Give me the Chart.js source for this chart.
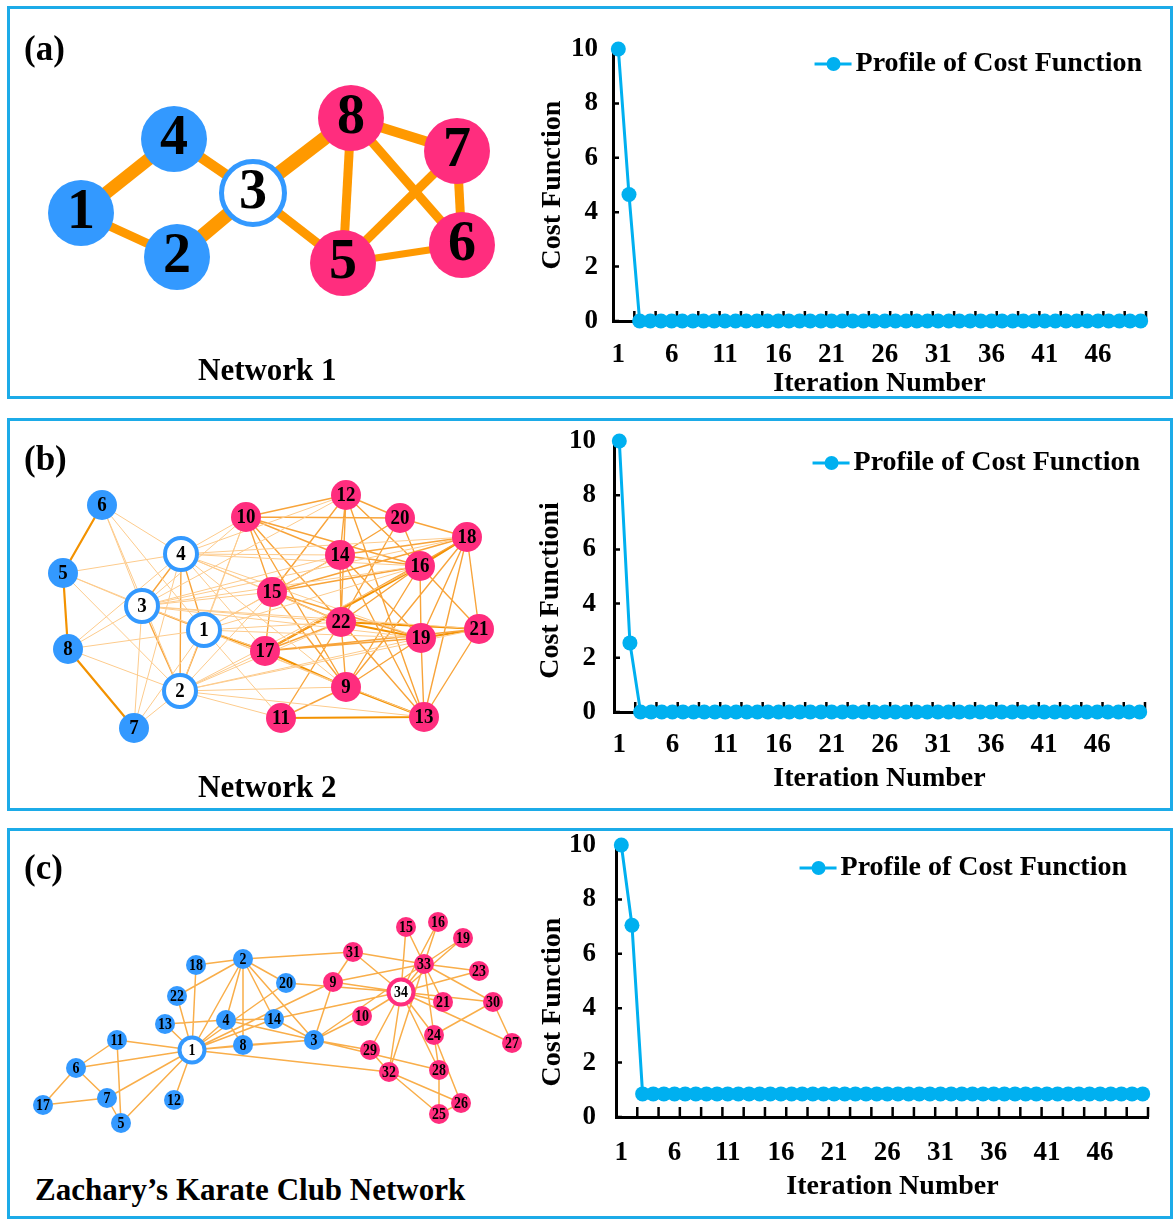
<!DOCTYPE html>
<html lang="en">
<head>
<meta charset="UTF-8">
<title>Cost Function Profiles</title>
<script src="https://cdn.jsdelivr.net/npm/chart.js"></script>
<style>
    body { margin: 0; background: #fff; }
    #page { position: relative; width: 1176px; height: 1220px; overflow: hidden;
            font-family: 'Liberation Serif', 'Times New Roman', serif; color: #000; }
    .panel { position: absolute; left: 7px; width: 1166px; border: 3px solid #1CABE8; box-sizing: border-box; }
    .tag { position: absolute; left: 24px; font-size: 35px; line-height: 35px; font-weight: bold; }
    .name { position: absolute; font-size: 31px; line-height: 31px; font-weight: bold; white-space: nowrap; }
    canvas { position: absolute; }
</style>
</head>
<body>
<div id="page">
    <div class="panel" style="top:6px;height:393px"></div>
    <div class="panel" style="top:418px;height:393px"></div>
    <div class="panel" style="top:828px;height:391px"></div>

    <canvas id="net1" width="510" height="345" style="left:11px;top:11px"></canvas>
    <canvas id="net2" width="510" height="360" style="left:11px;top:421px"></canvas>
    <canvas id="net3" width="530" height="330" style="left:11px;top:834px"></canvas>

    <canvas id="costA" width="630" height="391" style="left:530px;top:10px"></canvas>
    <canvas id="costB" width="630" height="378" style="left:530px;top:418px"></canvas>
    <canvas id="costC" width="630" height="372" style="left:530px;top:832px"></canvas>

    <div class="tag" style="top:31px">(a)</div>
    <div class="tag" style="top:441px">(b)</div>
    <div class="tag" style="top:850px">(c)</div>
    <div class="name" style="left:198px;top:354px">Network 1</div>
    <div class="name" style="left:198px;top:771px">Network 2</div>
    <div class="name" style="left:35px;top:1174px">Zachary’s Karate Club Network</div>
</div>

<script>
    const SERIF = "'Liberation Serif', 'Times New Roman', serif";
    const LINE = '#00B0F0';
    const BLUE = '#3399FF';
    const PINK = '#FF2D7E';

    // ---- cost function profiles ----
    const iterations = ['1','2','3','4','5','6','7','8','9','10','11','12','13','14','15','16','17','18','19','20',
        '21','22','23','24','25','26','27','28','29','30','31','32','33','34','35','36','37','38','39','40',
        '41','42','43','44','45','46','47','48','49','50'];
    const labelEvery = 5;
    const costNet1 = [10, 4.65, 0, 0, 0, 0, 0, 0, 0, 0, 0, 0, 0, 0, 0, 0, 0, 0, 0, 0, 0, 0, 0, 0, 0,
        0, 0, 0, 0, 0, 0, 0, 0, 0, 0, 0, 0, 0, 0, 0, 0, 0, 0, 0, 0, 0, 0, 0, 0, 0];
    const costNet2 = [10, 2.55, 0, 0, 0, 0, 0, 0, 0, 0, 0, 0, 0, 0, 0, 0, 0, 0, 0, 0, 0, 0, 0, 0, 0,
        0, 0, 0, 0, 0, 0, 0, 0, 0, 0, 0, 0, 0, 0, 0, 0, 0, 0, 0, 0, 0, 0, 0, 0, 0];
    const costKarate = [10, 7.05, 0.85, 0.85, 0.85, 0.85, 0.85, 0.85, 0.85, 0.85, 0.85, 0.85, 0.85, 0.85, 0.85,
        0.85, 0.85, 0.85, 0.85, 0.85, 0.85, 0.85, 0.85, 0.85, 0.85, 0.85, 0.85, 0.85, 0.85, 0.85, 0.85, 0.85,
        0.85, 0.85, 0.85, 0.85, 0.85, 0.85, 0.85, 0.85, 0.85, 0.85, 0.85, 0.85, 0.85, 0.85, 0.85, 0.85, 0.85, 0.85];

    // ---- network 1 ----
    const net1Labels = ['1','2','3','4','5','6','7','8'];
    const net1X = [81, 177, 253, 174, 343, 462, 457, 351];
    const net1Y = [213, 257, 193, 139, 263, 245, 151, 118];
    const net1Kind = ['b','b','rb','b','p','p','p','p'];
    const net1Edges = [[1,4],[1,2],[4,3],[2,3],[3,8],[3,5],[8,7],[8,5],[8,6],[7,5],[7,6],[5,6]];
    const net1Weights = [1.3, 0.9, 1.0, 1.4, 1.4, 0.9, 1.0, 0.9, 0.9, 0.9, 0.9, 0.7];

    // ---- network 2 ----
    const net2Labels = ['1','2','3','4','5','6','7','8','9','10','11','12','13','14','15','16','17','18','19','20','21','22'];
    const net2X = [204, 180, 142, 181, 63, 102, 134, 68, 346, 246, 281, 346, 424, 340, 272, 420, 265, 467, 421, 400, 479, 341];
    const net2Y = [630, 691, 606, 554, 573, 505, 728, 649, 687, 517, 718, 495, 717, 555, 592, 566, 651, 537, 638, 518, 629, 622];
    const net2Kind = ['rb','rb','rb','rb','b','b','b','b','p','p','p','p','p','p','p','p','p','p','p','p','p','p'];
    const net2Strong = [[6,5],[5,8],[8,7],[1,17],[17,9],[9,13],[16,18],[16,17],[22,21],[22,19],[19,21],[11,13]];
    const net2Medium = [[10,12],[10,20],[10,14],[10,16],[10,15],[10,22],[10,9],[12,14],[12,20],[12,16],[12,13],
        [12,22],[12,15],[20,18],[20,16],[20,14],[20,22],[18,14],[18,15],[18,17],[18,19],[18,21],[18,13],[18,9],
        [14,16],[14,22],[14,15],[14,13],[14,19],[16,19],[16,21],[16,9],[16,22],[16,15],[15,22],[15,9],[15,19],
        [22,9],[22,13],[22,11],[22,17],[19,13],[19,17],[19,9],[17,21],[9,11],[13,21],[15,17],
        [4,3],[4,2],[4,1],[3,2],[3,1],[2,1]];
    const net2Light = [[6,3],[6,4],[6,1],[6,2],[5,4],[5,3],[5,1],[5,2],[8,3],[8,4],[8,1],[8,2],[7,3],[7,4],[7,2],[7,1],
        [4,10],[4,12],[4,14],[4,16],[4,15],[4,18],[4,22],[4,19],[4,17],[4,9],
        [3,10],[3,14],[3,15],[3,16],[3,22],[3,17],[3,19],[3,18],[3,12],[3,21],
        [1,10],[1,15],[1,16],[1,22],[1,11],[1,13],[1,9],[1,19],[1,14],
        [2,11],[2,13],[2,9],[2,17],[2,22],[2,15],[2,16],[2,19],[2,10],[2,21]];

    // ---- Zachary's karate club ----
    const karateLabels = ['1','2','3','4','5','6','7','8','9','10','11','12','13','14','15','16','17',
        '18','19','20','21','22','23','24','25','26','27','28','29','30','31','32','33','34'];
    const karateX = [192, 243, 314, 226, 121, 76, 107, 243, 333, 362, 117, 174, 165, 274, 406, 438, 43,
        196, 463, 286, 443, 177, 479, 434, 439, 461, 512, 439, 370, 493, 353, 389, 424, 401];
    const karateY = [1050, 959, 1040, 1020, 1123, 1068, 1098, 1045, 982, 1016, 1040, 1100, 1024, 1019, 927, 922, 1105,
        965, 938, 983, 1002, 996, 971, 1035, 1114, 1103, 1043, 1070, 1050, 1002, 952, 1072, 964, 992];
    const karateKind = ['rb','b','b','b','b','b','b','b','p','p','b','b','b','b','p','p','b',
        'b','p','b','p','b','p','p','p','p','p','p','p','p','p','p','p','rp'];
    const karateEdges = [[1,2],[1,3],[1,4],[1,5],[1,6],[1,7],[1,8],[1,9],[1,11],[1,12],[1,13],[1,14],[1,18],[1,20],[1,22],[1,32],
        [2,3],[2,4],[2,8],[2,14],[2,18],[2,20],[2,22],[2,31],
        [3,4],[3,8],[3,9],[3,10],[3,14],[3,28],[3,29],[3,33],
        [4,8],[4,13],[4,14],[5,7],[5,11],[6,7],[6,11],[6,17],[7,17],
        [9,31],[9,33],[9,34],[10,34],[14,34],[15,33],[15,34],[16,33],[16,34],[19,33],[19,34],[20,34],
        [21,33],[21,34],[23,33],[23,34],[24,26],[24,28],[24,30],[24,33],[24,34],[25,26],[25,28],[25,32],
        [26,32],[27,30],[27,34],[28,34],[29,32],[29,34],[30,33],[30,34],[31,33],[31,34],[32,33],[32,34],[33,34]];

    // ---------------------------------------------------------------
    function edgePoints(edges, xs, ys) {
        const pts = [];
        edges.forEach(([a, b]) => {
            pts.push({x: xs[a - 1], y: ys[a - 1]}, {x: xs[b - 1], y: ys[b - 1]}, {x: null, y: null});
        });
        return pts;
    }

    function edgeSet(edges, xs, ys, color, width) {
        return {
            type: 'line', data: edgePoints(edges, xs, ys), borderColor: color, borderWidth: width,
            pointRadius: 0, spanGaps: false, tension: 0, clip: false
        };
    }

    function networkChart(id, labels, xs, ys, kinds, edgeSets, look) {
        const canvas = document.getElementById(id);
        const left = parseFloat(canvas.style.left), top = parseFloat(canvas.style.top);
        const fill = kinds.map(k => k === 'b' ? BLUE : k === 'p' ? PINK : '#fff');
        const ring = kinds.map(k => k === 'rb' ? BLUE : k === 'rp' ? PINK : 'rgba(0,0,0,0)');
        const radius = kinds.map(k => k[0] === 'r' ? look.ringRadius : look.radius);
        const ringW = kinds.map(k => k[0] === 'r' ? look.ringWidth : 0);

        const labelPlugin = {
            id: 'nodeLabels',
            afterDatasetsDraw(chart) {
                const ctx = chart.ctx;
                const meta = chart.getDatasetMeta(0);
                ctx.save();
                ctx.font = 'bold ' + look.fontSize + 'px ' + SERIF;
                ctx.fillStyle = '#000';
                ctx.textAlign = 'center';
                ctx.textBaseline = 'middle';
                meta.data.forEach((pt, i) => {
                    ctx.save();
                    ctx.translate(pt.x, pt.y + look.dy);
                    ctx.scale(look.squeeze, 1);
                    ctx.fillText(labels[i], 0, 0);
                    ctx.restore();
                });
                ctx.restore();
            }
        };

        return new Chart(canvas, {
            type: 'scatter',
            data: {
                datasets: [{
                    data: xs.map((x, i) => ({x: x, y: ys[i]})),
                    pointRadius: radius,
                    pointBackgroundColor: fill,
                    pointBorderColor: ring,
                    pointBorderWidth: ringW,
                    clip: false
                }].concat(edgeSets)
            },
            options: {
                responsive: false,
                animation: false,
                events: [],
                layout: { padding: 0, autoPadding: false },
                plugins: { legend: { display: false }, tooltip: { enabled: false } },
                scales: {
                    x: { type: 'linear', display: false, min: left, max: left + canvas.width },
                    y: { type: 'linear', display: false, reverse: true, min: top, max: top + canvas.height }
                }
            },
            plugins: [labelPlugin]
        });
    }

    // legend drawn inside the plot area, top right
    const insideLegend = {
        id: 'insideLegend',
        afterDraw(chart, args, opts) {
            const {ctx, chartArea} = chart;
            const ds = chart.data.datasets[0];
            ctx.save();
            ctx.font = 'bold 28px ' + SERIF;
            const tw = ctx.measureText(ds.label).width;
            const xText = chartArea.right - opts.right - tw;
            const y = chartArea.top + opts.top;
            ctx.strokeStyle = ds.borderColor;
            ctx.lineWidth = 3;
            ctx.beginPath();
            ctx.moveTo(xText - 41, y);
            ctx.lineTo(xText - 4, y);
            ctx.stroke();
            ctx.fillStyle = ds.borderColor;
            ctx.beginPath();
            ctx.arc(xText - 22, y, 7, 0, Math.PI * 2);
            ctx.fill();
            ctx.fillStyle = '#000';
            ctx.textBaseline = 'middle';
            ctx.fillText(ds.label, xText, y);
            ctx.restore();
        }
    };

    // inward tick marks: x every second category boundary, y at each value tick
    const axisTicks = {
        id: 'axisTicks',
        beforeDatasetsDraw(chart) {
            const {ctx} = chart;
            const xs = chart.scales.x, ys = chart.scales.y;
            const step = (xs.right - xs.left) / iterations.length;
            ctx.save();
            ctx.strokeStyle = '#000';
            ctx.lineWidth = 2.5;
            ctx.beginPath();
            for (let k = 2; k <= iterations.length; k += 2) {
                const x = xs.left + k * step;
                ctx.moveTo(x, xs.top);
                ctx.lineTo(x, xs.top - 10);
            }
            ys.ticks.forEach(t => {
                const y = ys.getPixelForValue(t.value);
                ctx.moveTo(ys.right, y);
                ctx.lineTo(ys.right + 6, y);
            });
            ctx.stroke();
            ctx.restore();
        }
    };

    function costChart(id, values, yTitle, xTitle, lay) {
        const tickFont = { family: SERIF, size: 27, weight: 'bold' };
        const titleFont = { family: SERIF, size: 28, weight: 'bold' };
        return new Chart(document.getElementById(id), {
            type: 'line',
            data: {
                labels: iterations,
                datasets: [{
                    label: 'Profile of Cost Function',
                    data: values,
                    borderColor: LINE,
                    backgroundColor: LINE,
                    borderWidth: 3,
                    pointRadius: 7.5,
                    pointBackgroundColor: LINE,
                    pointBorderWidth: 0,
                    tension: 0,
                    clip: false
                }]
            },
            options: {
                responsive: false,
                animation: false,
                events: [],
                layout: { padding: { top: lay.padTop, right: lay.padRight, left: 0, bottom: 0 }, autoPadding: false },
                plugins: {
                    legend: { display: false },
                    tooltip: { enabled: false },
                    insideLegend: lay.legend
                },
                scales: {
                    x: {
                        offset: true,
                        afterFit: s => { s.height = lay.xHeight; s.paddingLeft = 0; s.paddingRight = 0; },
                        grid: { display: false, drawTicks: false },
                        border: { color: '#000', width: 3 },
                        ticks: {
                            autoSkip: false, maxRotation: 0, minRotation: 0, padding: lay.xTickPad,
                            color: '#000', font: tickFont,
                            callback: (v, i) => i % labelEvery === 0 ? iterations[i] : ''
                        },
                        title: { display: true, text: xTitle, color: '#000', font: titleFont, padding: 0 }
                    },
                    y: {
                        min: 0, max: 10,
                        afterFit: s => { s.width = lay.yWidth; s.paddingTop = 0; s.paddingBottom = 0; },
                        grid: { display: false, drawTicks: false },
                        border: { color: '#000', width: 3 },
                        ticks: { stepSize: 2, padding: lay.yTickPad, color: '#000', font: tickFont },
                        title: {
                            display: true, text: yTitle, color: '#000', font: titleFont,
                            padding: { top: lay.yTitlePad, bottom: 0 }
                        }
                    }
                }
            },
            plugins: [axisTicks, insideLegend]
        });
    }

    // ---- draw ----
    networkChart('net1', net1Labels, net1X, net1Y, net1Kind,
        net1Edges.map((e, i) => edgeSet([e], net1X, net1Y, '#FF9900', net1Weights[i] * 10)),
        { radius: 33, ringRadius: 31.5, ringWidth: 5, fontSize: 56, dy: 1, squeeze: 1 });

    networkChart('net2', net2Labels, net2X, net2Y, net2Kind, [
        edgeSet(net2Light, net2X, net2Y, '#FDCB8C', 1),
        edgeSet(net2Medium, net2X, net2Y, '#F8A43A', 1.4),
        edgeSet(net2Strong, net2X, net2Y, '#F39200', 2.2)
    ], { radius: 15, ringRadius: 16, ringWidth: 4, fontSize: 21, dy: 1, squeeze: 0.9 });

    networkChart('net3', karateLabels, karateX, karateY, karateKind, [
        edgeSet(karateEdges, karateX, karateY, '#F9AE4A', 1.5)
    ], { radius: 10, ringRadius: 12.5, ringWidth: 4, fontSize: 17, dy: 1, squeeze: 0.82 });

    costChart('costA', costNet1, 'Cost Function', 'Iteration Number', {
        padTop: 39, padRight: 14, yWidth: 83, xHeight: 80, xTickPad: 18, yTickPad: 15, yTitlePad: 6,
        legend: { right: 4, top: 15 }
    });
    costChart('costB', costNet2, 'Cost Functioni    ', 'Iteration Number', {
        padTop: 23, padRight: 15, yWidth: 84, xHeight: 84, xTickPad: 17, yTickPad: 18, yTitlePad: 4,
        legend: { right: 5, top: 22 }
    });
    costChart('costC', costKarate, 'Cost Function      ', '   Iteration Number', {
        padTop: 13, padRight: 12, yWidth: 86, xHeight: 87, xTickPad: 20, yTickPad: 20, yTitlePad: 6,
        legend: { right: 21, top: 23 }
    });
</script>
</body>
</html>
